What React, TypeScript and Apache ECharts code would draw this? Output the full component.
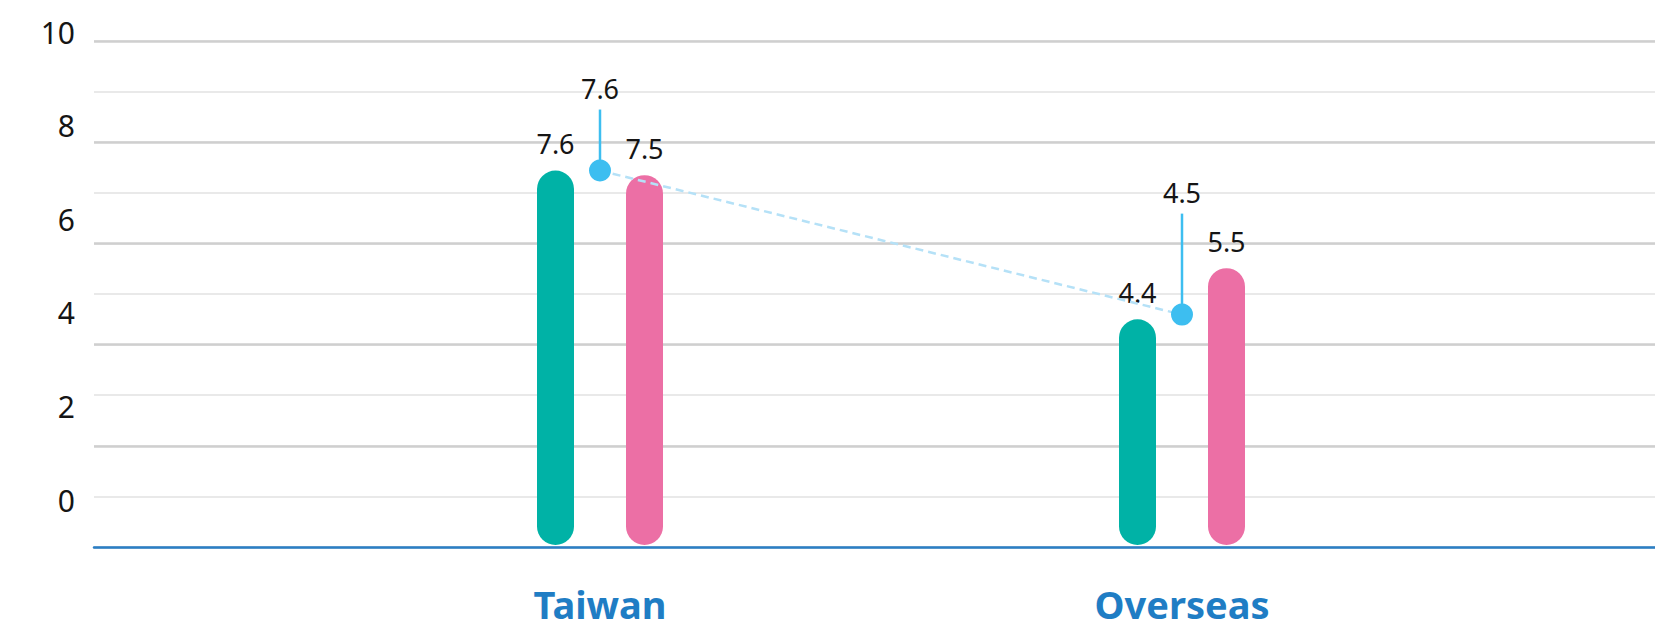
import React, { useEffect, useRef } from "react";
import * as echarts from "echarts";

// Categories and values
const categories = ["Taiwan", "Overseas"];
const greenValues = [7.6, 4.4];
const pinkValues = [7.5, 5.5];
const dotValues = [7.6, 4.5];
const yTickMax = 10;

// Styling
const FONT = "'Noto Sans', 'Open Sans', sans-serif";
const GREEN = "#00b2a6";
const PINK = "#ec6fa5";
const DOT = "#3dbef0";
const DASH = "#b5e1f7";
const BAR_W = 37;
const BAR_OFFSET = 44.5;
const PIN_LENGTHS = [61, 101];
const VALUE_FONT = 27;

function barRenderer(values: number[], dx: number, color: string) {
  return (params: any, api: any) => {
    const idx = api.value(0);
    const v = api.value(1);
    const top = api.coord([idx, v]);
    const base = api.coord([idx, -0.5]);
    const cx = top[0] + dx;
    const h = base[1] - top[1] - 2;
    return {
      type: "group",
      children: [
        {
          type: "rect",
          shape: { x: cx - BAR_W / 2, y: top[1], width: BAR_W, height: h, r: BAR_W / 2 },
          style: { fill: color },
        },
        {
          type: "text",
          x: cx,
          y: top[1] - 27,
          style: {
            text: String(values[params.dataIndex]),
            align: "center",
            verticalAlign: "middle",
            fontSize: VALUE_FONT,
            fontFamily: FONT,
            fill: "#151515",
          },
        },
      ],
    };
  };
}

export default function App() {
  const ref = useRef<HTMLDivElement>(null);

  useEffect(() => {
    if (!ref.current) return;
    const chart = echarts.init(ref.current, undefined, { renderer: "svg" });

    const option: any = {
      animation: false,
      backgroundColor: "#ffffff",
      grid: [
        // grid lines and baseline
        { left: 94, right: 0, top: 41, bottom: 82 },
        // data
        { left: 309, right: 182, top: 59, bottom: 82 },
        // y tick labels
        { left: 94, right: 0, top: 32, bottom: 129 },
      ],
      xAxis: [
        {
          gridIndex: 0,
          type: "value",
          min: 0,
          max: 1,
          z: 5,
          axisLine: { show: true, onZero: false, lineStyle: { color: "#2a7fc6", width: 2.5 } },
          axisTick: { show: false },
          axisLabel: { show: false },
          splitLine: { show: false },
        },
        {
          gridIndex: 1,
          type: "category",
          data: categories,
          axisLine: { show: false },
          axisTick: { show: false },
          axisLabel: {
            margin: 38,
            fontSize: 38,
            fontWeight: "bold",
            fontFamily: FONT,
            color: "#1f7dc4",
          },
          splitLine: { show: false },
        },
        {
          gridIndex: 2,
          type: "value",
          show: false,
          min: 0,
          max: 1,
        },
      ],
      yAxis: [
        {
          gridIndex: 0,
          type: "value",
          min: 0,
          max: yTickMax,
          interval: 1,
          axisLine: { show: false },
          axisTick: { show: false },
          axisLabel: { show: false },
          splitLine: { show: true, lineStyle: { color: "#e2e2e2", width: 1.5 } },
        },
        {
          gridIndex: 0,
          type: "value",
          min: 0,
          max: yTickMax,
          interval: 2,
          axisLine: { show: false },
          axisTick: { show: false },
          axisLabel: { show: false },
          splitLine: { show: true, lineStyle: { color: "#cfcfcf", width: 2.5 } },
        },
        {
          gridIndex: 1,
          type: "value",
          min: -0.5,
          max: yTickMax,
          show: false,
          splitLine: { show: false },
        },
        {
          gridIndex: 2,
          type: "value",
          min: 0,
          max: yTickMax,
          interval: 2,
          axisLine: { show: false },
          axisTick: { show: false },
          splitLine: { show: false },
          axisLabel: {
            margin: 19,
            fontSize: 30,
            fontFamily: FONT,
            color: "#151515",
          },
        },
      ],
      series: [
        {
          type: "custom",
          xAxisIndex: 1,
          yAxisIndex: 2,
          z: 2,
          data: greenValues.map((v, i) => [i, v]),
          renderItem: barRenderer(greenValues, -BAR_OFFSET, GREEN),
        },
        {
          type: "custom",
          xAxisIndex: 1,
          yAxisIndex: 2,
          z: 2,
          data: pinkValues.map((v, i) => [i, v]),
          renderItem: barRenderer(pinkValues, BAR_OFFSET, PINK),
        },
        {
          // pin stems and their value labels above the dots
          type: "custom",
          xAxisIndex: 1,
          yAxisIndex: 2,
          z: 3,
          data: dotValues.map((v, i) => [i, v]),
          renderItem: (params: any, api: any) => {
            const p = api.coord([api.value(0), api.value(1)]);
            const len = PIN_LENGTHS[params.dataIndex];
            return {
              type: "group",
              children: [
                {
                  type: "line",
                  shape: { x1: p[0], y1: p[1], x2: p[0], y2: p[1] - len },
                  style: { stroke: DOT, lineWidth: 2.5 },
                },
                {
                  type: "text",
                  x: p[0],
                  y: p[1] - len - 21,
                  style: {
                    text: String(dotValues[params.dataIndex]),
                    align: "center",
                    verticalAlign: "middle",
                    fontSize: VALUE_FONT,
                    fontFamily: FONT,
                    fill: "#151515",
                  },
                },
              ],
            };
          },
        },
        {
          type: "line",
          xAxisIndex: 1,
          yAxisIndex: 2,
          z: 4,
          data: dotValues,
          symbol: "circle",
          symbolSize: 22,
          itemStyle: { color: DOT },
          lineStyle: { color: DASH, width: 2.5, type: [8, 5] },
          label: { show: false },
        },
      ],
    };

    chart.setOption(option);
    return () => chart.dispose();
  }, []);

  return (
    <div
      ref={ref}
      style={{ position: "fixed", left: 0, top: 0, width: 1655, height: 629 }}
    />
  );
}
